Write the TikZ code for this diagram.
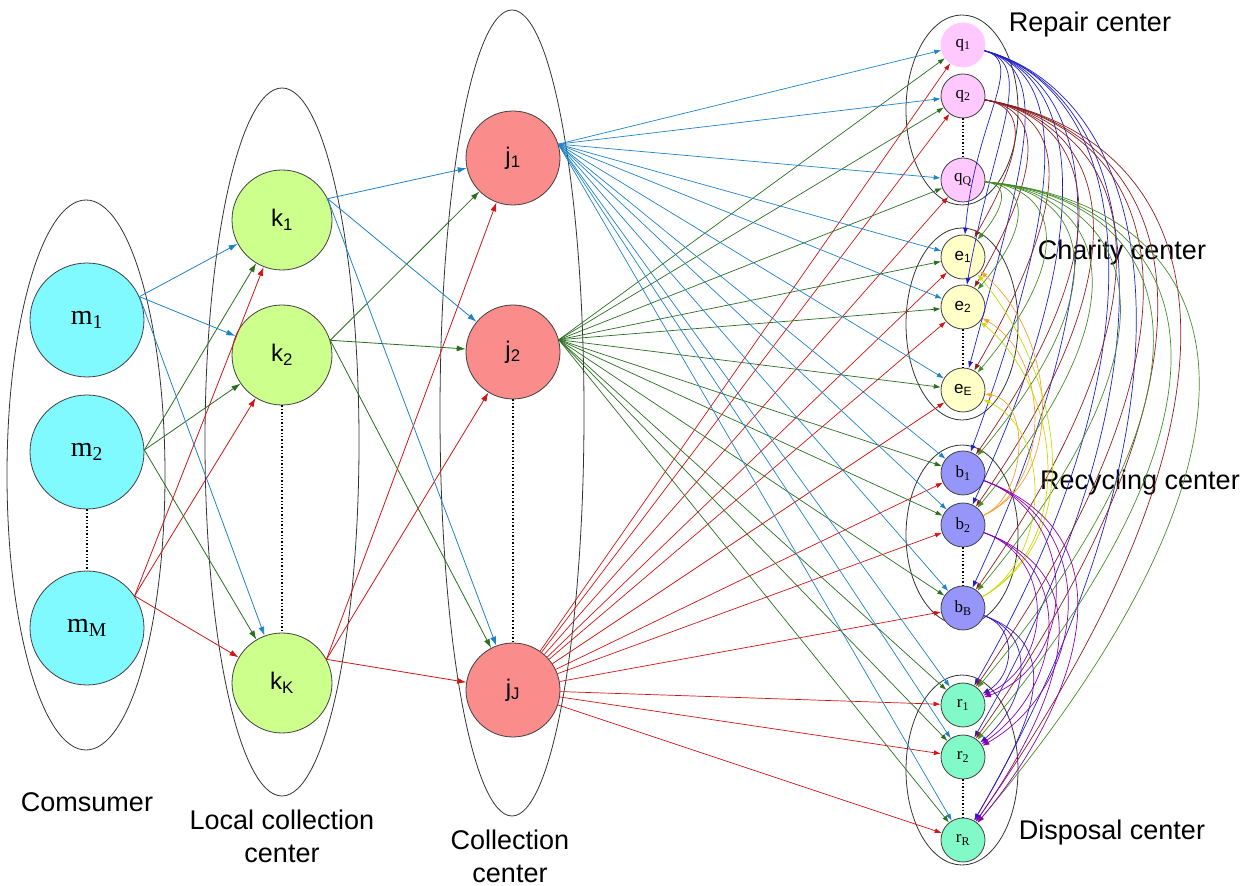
\documentclass[tikz,border=0pt]{standalone}
\usepackage{fontspec}
\setmainfont{Liberation Serif}
\newfontfamily\sansf{Liberation Sans}
\usetikzlibrary{arrows.meta}
\definecolor{mfill}{RGB}{128,250,255}
\definecolor{kfill}{RGB}{204,255,140}
\definecolor{jfill}{RGB}{250,140,140}
\definecolor{qfill}{RGB}{255,200,255}
\definecolor{efill}{RGB}{255,255,200}
\definecolor{bfill}{RGB}{150,150,250}
\definecolor{rfill}{RGB}{130,250,200}
\definecolor{cblue}{RGB}{30,130,200}
\definecolor{cgreen}{RGB}{40,110,30}
\definecolor{cred}{RGB}{210,20,20}
\definecolor{qblue}{RGB}{30,30,200}
\definecolor{qred}{RGB}{140,30,30}
\definecolor{qgreen}{RGB}{70,140,40}
\definecolor{corange}{RGB}{250,160,40}
\definecolor{cyellow}{RGB}{200,220,0}
\definecolor{cpurple}{RGB}{140,0,180}
\definecolor{bblue}{RGB}{60,20,200}
\begin{document}
\begin{tikzpicture}[x=1pt,y=1pt,
  every node/.style={inner sep=0pt},
  bignode/.style={circle, draw=black!75, line width=0.8pt},
  mnode/.style={bignode, fill=mfill, minimum size=114pt, font=\fontsize{28}{30}\selectfont},
  knode/.style={bignode, fill=kfill, minimum size=100pt, font=\sansf\fontsize{24}{26}\selectfont},
  jnode/.style={bignode, fill=jfill, minimum size=94pt, font=\sansf\fontsize{24}{26}\selectfont},
  smallnode/.style={circle, draw=black!75, line width=0.8pt, minimum size=44pt, font=\fontsize{17}{19}\selectfont},
  qnode/.style={smallnode, fill=qfill},
  enode/.style={smallnode, fill=efill, font=\sansf\fontsize{17}{19}\selectfont},
  bnode/.style={smallnode, fill=bfill},
  rnode/.style={smallnode, fill=rfill},
  group/.style={draw=black!80, line width=0.8pt},
  lab/.style={font=\sansf\fontsize{27}{33}\selectfont, align=center},
  dots/.style={dotted, line width=1.4pt, black},
  ar/.style={-{Latex[length=9pt,width=6pt]}, line width=0.8pt},
  arc/.style={-{Latex[length=7pt,width=5pt]}, line width=0.7pt}
]
\useasboundingbox (0,0) rectangle (1253,886);
% group ellipses
\draw[group] (86,411) ellipse [x radius=79, y radius=275];
\draw[group] (282,444) ellipse [x radius=77, y radius=354];
\draw[group] (512,473) ellipse [x radius=72, y radius=403];
\draw[group] (962,776) ellipse [x radius=56, y radius=95];
\draw[group] (962,562) ellipse [x radius=56, y radius=96];
\draw[group] (962,351) ellipse [x radius=56, y radius=90];
\draw[group] (962,116) ellipse [x radius=56, y radius=95];
% consumers
\node[mnode] (m1) at (87,566) {m\textsubscript{1}};
\node[mnode] (m2) at (87,434) {m\textsubscript{2}};
\node[mnode] (mM) at (87,258) {m\textsubscript{M}};
% local collection
\node[knode] (k1) at (282,666) {k\textsubscript{1}};
\node[knode] (k2) at (282,531) {k\textsubscript{2}};
\node[knode] (kK) at (282,203) {k\textsubscript{K}};
% collection
\node[jnode] (j1) at (513,728) {j\textsubscript{1}};
\node[jnode] (j2) at (513,534) {j\textsubscript{2}};
\node[jnode] (jJ) at (513,196) {j\textsubscript{J}};
% right side
\node[qnode, draw=qfill] (q1) at (963,841) {q\textsubscript{1}};
\node[qnode] (q2) at (963,790) {q\textsubscript{2}};
\node[qnode] (qQ) at (963,706) {q\textsubscript{Q}};
\node[enode] (e1) at (963,629) {e\textsubscript{1}};
\node[enode] (e2) at (963,579) {e\textsubscript{2}};
\node[enode] (eE) at (963,496) {e\textsubscript{E}};
\node[bnode] (b1) at (963,413) {b\textsubscript{1}};
\node[bnode] (b2) at (963,361) {b\textsubscript{2}};
\node[bnode] (bB) at (963,278) {b\textsubscript{B}};
\node[rnode] (r1) at (963,181) {r\textsubscript{1}};
\node[rnode] (r2) at (963,129) {r\textsubscript{2}};
\node[rnode] (rR) at (963,46) {r\textsubscript{R}};
% dots
\draw[dots] (m2.south) -- (mM.north);
\draw[dots] (k2.south) -- (kK.north);
\draw[dots] (j2.south) -- (jJ.north);
\draw[dots] (q2.south) -- (qQ.north);
\draw[dots] (e2.south) -- (eE.north);
\draw[dots] (b2.south) -- (bB.north);
\draw[dots] (r2.south) -- (rR.north);
% labels
\node[lab] (lcons) at (87,84) {Comsumer};
\node[lab] (llocal) at (282,50) {Local collection\\center};
\node[lab] (lcoll) at (510,30) {Collection\\center};
\node[lab] (lrep) at (1090,861) {Repair center};
\node[lab] (lchar) at (1122,633) {Charity center};
\node[lab] (lrec) at (1140,403) {Recycling center};
\node[lab] (ldisp) at (1112,53) {Disposal center};
% left edges
\foreach \t in {k1,k2,kK} {
  \draw[ar,cblue] (m1.24) -- (\t);
  \draw[ar,cgreen] (m2.2) -- (\t);
  \draw[ar,cred] (mM.34) -- (\t);
}
\foreach \t in {j1,j2,jJ} {
  \draw[ar,cblue] (k1.25) -- (\t);
  \draw[ar,cgreen] (k2.17) -- (\t);
  \draw[ar,cred] (kK.28) -- (\t);
}
% collection to centres
\foreach \t in {q1,q2,qQ,e1,e2,eE,b1,b2,bB,r1,r2,rR} {
  \draw[arc,cblue] (j1.17) -- (\t);
  \draw[arc,cgreen] (j2.15) -- (\t);
  \draw[arc,cred] (jJ) -- (\t);
}
% repair centre arcs
\foreach \t/\i in {e1/85,e2/80,eE/75,b1/70,b2/65,bB/65,r1/60,r2/60,rR/60}
  \draw[arc,qblue] (q1) to[out=-15,in=\i,out looseness=0.6,in looseness=1.6] (\t);
\foreach \t/\i in {e1/60,e2/60,eE/60,b1/55,b2/55,bB/55,r1/55,r2/55,rR/55}
  \draw[arc,qred] (q2) to[out=-10,in=\i,out looseness=0.8,in looseness=1.9] (\t);
\foreach \t/\i in {e1/50,e2/50,eE/50,b1/50,b2/50,bB/50,r1/50,r2/50,rR/50}
  \draw[arc,qgreen] (qQ) to[out=-5,in=\i,out looseness=0.95,in looseness=2.1] (\t);
% recycling to charity
\foreach \t/\i in {e1/-40,e2/-30,eE/-10}
  \draw[arc,corange] (b2) to[out=25,in=\i] (\t);
\foreach \t/\i in {e1/-50,e2/-40,eE/-25}
  \draw[arc,cyellow] (bB) to[out=30,in=\i] (\t);
% recycling to disposal
\foreach \t/\i in {r1/20,r2/30,rR/50}
  \draw[arc,cpurple] (b1) to[out=-20,in=\i,looseness=1.2] (\t);
\foreach \t/\i in {r1/25,r2/35,rR/55}
  \draw[arc,cpurple] (b2) to[out=-20,in=\i,looseness=1.2] (\t);
\foreach \t/\i in {r1/30,r2/40,rR/60}
  \draw[arc,bblue] (bB) to[out=-20,in=\i,looseness=1.2] (\t);
\end{tikzpicture}
\end{document}
